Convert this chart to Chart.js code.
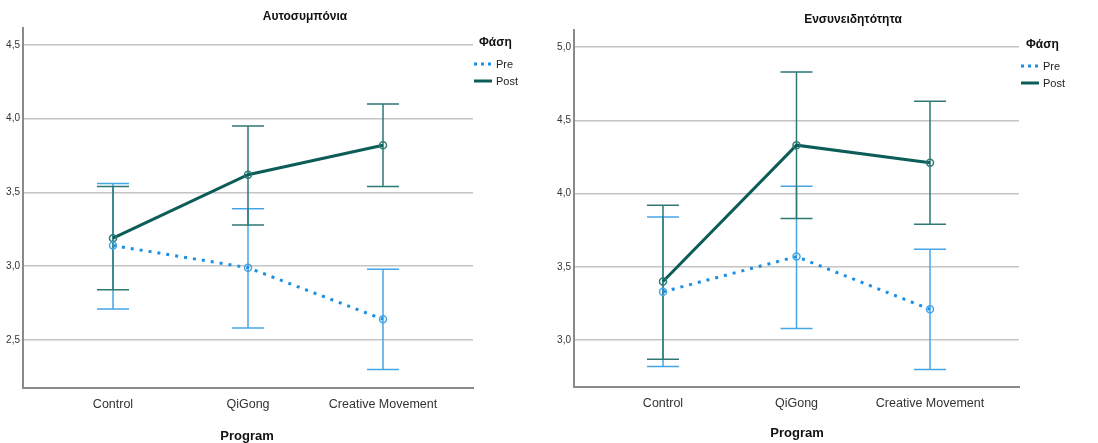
<!DOCTYPE html>
<html>
<head>
<meta charset="utf-8">
<script src="https://cdn.jsdelivr.net/npm/chart.js@4"></script>
<style>
  body { margin: 0; background: #fff; }
  #left { position: absolute; left: 0; top: 0; }
  #right { position: absolute; left: 540px; top: 0; }
</style>
</head>
<body>
<div id="left"><canvas id="c1" width="540" height="443"></canvas></div>
<div id="right"><canvas id="c2" width="558" height="443"></canvas></div>
<script>
// categories and values
var categories = ['Control', 'QiGong', 'Creative Movement'];
var seriesNames = ['Pre', 'Post'];

// Αυτοσυμπόνια
var selfPre = [3.14, 2.99, 2.64];
var selfPreLow = [2.71, 2.58, 2.30];
var selfPreHigh = [3.56, 3.39, 2.98];
var selfPost = [3.19, 3.62, 3.82];
var selfPostLow = [2.84, 3.28, 3.54];
var selfPostHigh = [3.54, 3.95, 4.10];
var selfTicks = [2.5, 3.0, 3.5, 4.0, 4.5];

// Ενσυνειδητότητα
var mindPre = [3.33, 3.57, 3.21];
var mindPreLow = [2.82, 3.08, 2.80];
var mindPreHigh = [3.84, 4.05, 3.62];
var mindPost = [3.40, 4.33, 4.21];
var mindPostLow = [2.87, 3.83, 3.79];
var mindPostHigh = [3.92, 4.83, 4.63];
var mindTicks = [3.0, 3.5, 4.0, 4.5, 5.0];

var FONT = '"Liberation Sans", Arial, sans-serif';
var preColor = '#1b8fe2';
var preBar = '#45a6e6';
var postColor = '#0c5c57';
var postBar = '#2d7a74';

// error bars, drawn with the chart's own scales
var errorBars = {
    id: 'errorBars',
    beforeDatasetsDraw: function(chart) {
        var ctx = chart.ctx;
        var xs = chart.scales.x, ys = chart.scales.y;
        chart.data.datasets.forEach(function(ds) {
            ctx.save();
            ctx.strokeStyle = ds.barColor;
            ctx.lineWidth = 1.5;
            ds.data.forEach(function(p, i) {
                var x = xs.getPixelForValue(p.x);
                var lo = ys.getPixelForValue(ds.low[i]);
                var hi = ys.getPixelForValue(ds.high[i]);
                ctx.beginPath();
                ctx.moveTo(x, lo); ctx.lineTo(x, hi);
                ctx.moveTo(x - 16, lo); ctx.lineTo(x + 16, lo);
                ctx.moveTo(x - 16, hi); ctx.lineTo(x + 16, hi);
                ctx.stroke();
            });
            ctx.restore();
        });
    }
};

// titles and legend
var decorations = {
    id: 'decorations',
    afterDraw: function(chart) {
        var o = chart.options.plugins.decorations;
        var ctx = chart.ctx;
        ctx.save();
        ctx.fillStyle = '#111';
        ctx.textBaseline = 'middle';
        ctx.textAlign = 'center';
        ctx.font = 'bold 12px ' + FONT;
        ctx.fillText(o.title, o.titleX, o.titleY);
        ctx.font = 'bold 13px ' + FONT;
        ctx.fillText('Program', o.progX, o.progY);
        ctx.textAlign = 'left';
        ctx.font = 'bold 12px ' + FONT;
        ctx.fillText('Φάση', o.legX + 5, o.legY);
        chart.data.datasets.forEach(function(ds, k) {
            var y = o.legY + 21 + k * 17;
            ctx.strokeStyle = ds.borderColor;
            ctx.lineWidth = 3;
            ctx.setLineDash(ds.borderDash ? [3, 4] : []);
            ctx.beginPath();
            ctx.moveTo(o.legX, y);
            ctx.lineTo(o.legX + 18, y);
            ctx.stroke();
            ctx.setLineDash([]);
            ctx.fillStyle = '#222';
            ctx.font = '11px ' + FONT;
            ctx.fillText(ds.label, o.legX + 22, y + 1);
        });
        ctx.restore();
    }
};

function points(vals) {
    return vals.map(function(v, i) { return { x: i, y: v }; });
}

function makeChart(id, pre, preLow, preHigh, post, postLow, postHigh, yTicks, yMin, yMax, box, deco) {
    new Chart(document.getElementById(id), {
        type: 'line',
        data: {
            datasets: [{
                label: seriesNames[0],
                data: points(pre),
                low: preLow, high: preHigh,
                borderColor: preColor,
                barColor: preBar,
                borderWidth: 3,
                borderDash: [3, 6],
                pointRadius: 3.5,
                pointBorderWidth: 1.5,
                pointBackgroundColor: 'rgba(255,255,255,0)',
                pointBorderColor: preBar
            }, {
                label: seriesNames[1],
                data: points(post),
                low: postLow, high: postHigh,
                borderColor: postColor,
                barColor: postBar,
                borderWidth: 3,
                pointRadius: 3.5,
                pointBorderWidth: 1.5,
                pointBackgroundColor: 'rgba(255,255,255,0)',
                pointBorderColor: postBar
            }]
        },
        options: {
            responsive: false,
            animation: false,
            layout: { padding: { top: box.top, right: box.right, left: 0, bottom: 0 } },
            plugins: {
                legend: { display: false },
                tooltip: { enabled: false },
                decorations: deco
            },
            scales: {
                x: {
                    type: 'linear',
                    min: -2 / 3,
                    max: 2 + 2 / 3,
                    afterBuildTicks: function(s) { s.ticks = [0, 1, 2].map(function(v) { return { value: v }; }); },
                    afterFit: function(s) { s.height = box.xHeight; },
                    grid: { display: false, drawTicks: false },
                    border: { display: true, color: '#8a8a8a', width: 2 },
                    ticks: {
                        padding: 9,
                        color: '#333',
                        font: { size: 12.5, family: FONT },
                        callback: function(v) { return categories[v]; }
                    }
                },
                y: {
                    min: yMin,
                    max: yMax,
                    afterBuildTicks: function(s) { s.ticks = yTicks.map(function(v) { return { value: v }; }); },
                    afterFit: function(s) { s.width = box.yWidth; },
                    grid: { color: '#c4c4c4', lineWidth: 1.5, drawTicks: false },
                    border: { display: true, color: '#8a8a8a', width: 2 },
                    ticks: {
                        padding: 3,
                        color: '#333',
                        font: { size: 10, family: FONT },
                        callback: function(v) { return v.toFixed(1).replace('.', ','); }
                    }
                }
            }
        },
        plugins: [errorBars, decorations]
    });
}

makeChart('c1', selfPre, selfPreLow, selfPreHigh, selfPost, selfPostLow, selfPostHigh,
    selfTicks, 2.174, 4.615,
    { top: 28, right: 67, xHeight: 55, yWidth: 23 },
    { title: 'Αυτοσυμπόνια', titleX: 305, titleY: 17, progX: 247, progY: 436, legX: 474, legY: 43 });

makeChart('c2', mindPre, mindPreLow, mindPreHigh, mindPost, mindPostLow, mindPostHigh,
    mindTicks, 2.68, 5.116,
    { top: 30, right: 79, xHeight: 56, yWidth: 34 },
    { title: 'Ενσυνειδητότητα', titleX: 313, titleY: 20, progX: 257, progY: 433, legX: 481, legY: 45 });
</script>
</body>
</html>
